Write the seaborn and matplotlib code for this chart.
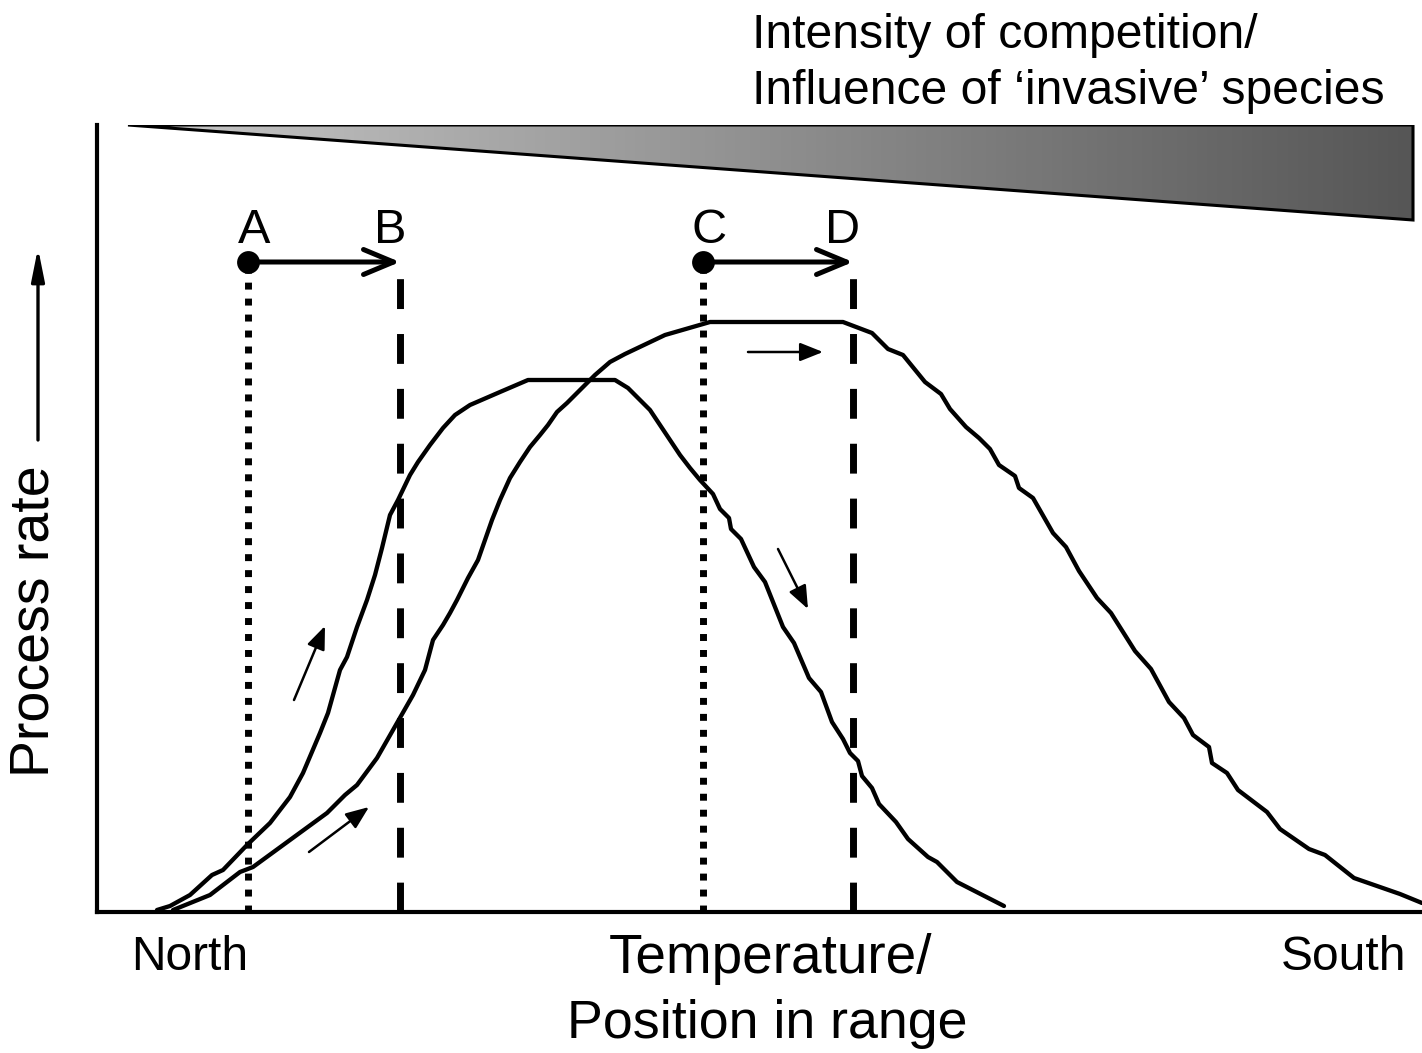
import numpy as np
import pandas as pd
import matplotlib.pyplot as plt
from matplotlib.patches import Polygon
import seaborn as sns

# Process-rate curves (position along range vs. rate)
north_x = [60, 73, 93, 115, 126, 150, 173, 193, 206, 223, 231, 243, 250, 260, 270, 278, 285, 293, 301, 313,
           321, 333, 346, 358, 373, 403, 431, 518, 531, 543, 553, 563, 573, 583, 593, 603, 616, 623, 632, 634,
           644, 657, 668, 686, 697, 712, 724, 735, 746, 753, 761, 765, 775, 782, 799, 811, 831, 840, 860, 907]
north_y = [2, 6, 17, 37, 42, 67, 89, 115, 139, 179, 199, 242, 255, 285, 312, 337, 364, 397, 412, 437,
           450, 467, 484, 497, 507, 520, 532, 532, 524, 512, 502, 487, 472, 457, 444, 432, 418, 403, 394, 383,
           373, 345, 330, 285, 269, 234, 220, 190, 173, 159, 151, 136, 124, 108, 90, 73, 55, 50, 30, 6]

south_x = [76, 113, 143, 156, 193, 230, 248, 260, 280, 300, 316, 328, 336, 346, 353, 360, 371, 381, 388, 395,
           403, 413, 423, 433, 443, 451, 460, 470, 483, 498, 513, 528, 568, 613, 746, 775, 791, 806, 828, 844,
           853, 869, 882, 893, 902, 918, 922, 936, 956, 969, 982, 1000, 1014, 1038, 1054, 1072, 1087, 1096, 1112, 1115,
           1130, 1141, 1170, 1183, 1212, 1228, 1257, 1303, 1325]
south_y = [2, 17, 40, 45, 72, 99, 117, 127, 154, 189, 217, 242, 272, 287, 299, 312, 334, 352, 372, 392,
           412, 434, 450, 465, 477, 487, 500, 509, 522, 537, 550, 558, 577, 590, 590, 579, 563, 557, 530, 518,
           503, 485, 474, 463, 447, 436, 424, 414, 379, 365, 341, 314, 299, 261, 243, 210, 194, 177, 165, 149,
           139, 122, 100, 83, 63, 57, 34, 18, 9]

# Range shifts A->B and C->D
shift_labels_start = ["A", "C"]
shift_labels_end = ["B", "D"]
shift_start = [151, 606]
shift_end = [303, 756]
shift_level = 650

# Small direction arrows (start x, start y, end x, end y)
dir_arrows = [(197, 212, 228, 286), (212, 60, 272, 105), (651, 560, 726, 560), (681, 363, 711, 303)]

# Competition wedge (x from, x to, height at right end)
wedge_x = [31, 1316]
wedge_top = 787
wedge_bottom = 692

W, H = 1422, 1053

sns.set_theme(style="white")
plt.rcParams["font.family"] = ["Liberation Sans", "DejaVu Sans"]
plt.rcParams["text.color"] = "black"

fig = plt.figure(figsize=(W / 100, H / 100), dpi=100)
ax = fig.add_axes([97 / W, (H - 912) / H, (W - 97) / W, 787 / H])

df = pd.concat([
    pd.DataFrame({"pos": north_x, "rate": north_y, "curve": "north"}),
    pd.DataFrame({"pos": south_x, "rate": south_y, "curve": "south"}),
])
sns.lineplot(data=df, x="pos", y="rate", units="curve", estimator=None, sort=False,
             color="black", lw=3.1, ax=ax, legend=False)

# vertical lines for range positions
for xs in shift_start:
    ax.plot([xs, xs], [0, shift_level], color="black", lw=5, linestyle=(0, (1, 1.3)))
for xe in shift_end:
    ax.plot([xe, xe], [0, shift_level], color="black", lw=5, linestyle=(0, (4.3, 3.6)))

# shift arrows
for xs, xe in zip(shift_start, shift_end):
    ax.annotate("", xy=(xe, shift_level), xytext=(xs, shift_level),
                arrowprops=dict(arrowstyle="->,head_length=0.72,head_width=0.3", lw=3.6,
                                color="black", mutation_scale=30, shrinkA=0, shrinkB=0))
sns.scatterplot(x=shift_start, y=[shift_level] * 2, s=270, color="black", ax=ax, zorder=5, linewidth=0)

for lab, xs in zip(shift_labels_start, shift_start):
    ax.text(xs + 6, shift_level + 19, lab, ha="center", va="baseline", fontsize=35, color="black")
for lab, xe in zip(shift_labels_end, shift_end):
    ax.text(xe - 10, shift_level + 19, lab, ha="center", va="baseline", fontsize=35, color="black")

# small direction arrows
for x0, y0, x1, y1 in dir_arrows:
    ax.annotate("", xy=(x1, y1), xytext=(x0, y0),
                arrowprops=dict(arrowstyle="-|>,head_length=0.5,head_width=0.2", lw=1.8,
                                color="black", mutation_scale=28, shrinkA=0, shrinkB=0))

# gradient wedge
verts = [(wedge_x[0], wedge_top), (wedge_x[1], wedge_top), (wedge_x[1], wedge_bottom)]
grad = np.linspace(0, 1, 256).reshape(1, -1)
cmap = plt.matplotlib.colors.LinearSegmentedColormap.from_list("wedge", ["#c8c8c8", "#565656"])
img = ax.imshow(grad, extent=[wedge_x[0], wedge_x[1], wedge_bottom, wedge_top], aspect="auto",
                cmap=cmap, origin="lower", zorder=1)
poly = Polygon(verts, closed=True, facecolor="none", edgecolor="black", lw=2.2, zorder=2,
               joinstyle="miter")
ax.add_patch(poly)
img.set_clip_path(poly)

ax.set_xlim(0, W - 97)
ax.set_ylim(0, 787)
ax.set_xticks([])
ax.set_yticks([])
ax.set_xlabel("")
ax.set_ylabel("")
for side in ["top", "right"]:
    ax.spines[side].set_visible(False)
for side in ["left", "bottom"]:
    ax.spines[side].set_linewidth(3)
    ax.spines[side].set_color("black")
ax.patch.set_alpha(0)


def fx(x):
    return x / W


def fy(y):
    return 1 - y / H


fig.text(fx(752), fy(48), "Intensity of competition/", fontsize=34.7, va="baseline", ha="left")
fig.text(fx(752), fy(104), "Influence of \u2018invasive\u2019 species", fontsize=34.7, va="baseline", ha="left")
fig.text(fx(190), fy(970), "North", fontsize=34.5, ha="center", va="baseline")
fig.text(fx(1344), fy(970), "South", fontsize=34.5, ha="center", va="baseline")
fig.text(fx(770), fy(973), "Temperature/", fontsize=39.5, ha="center", va="baseline")
fig.text(fx(767), fy(1038), "Position in range", fontsize=38.7, ha="center", va="baseline")
fig.text(fx(35), fy(621), "Process rate", fontsize=40, rotation=90, ha="center", va="center")
fig.add_artist(plt.matplotlib.patches.FancyArrowPatch(
    (fx(38), fy(440)), (fx(38), fy(248)), transform=fig.transFigure,
    arrowstyle="-|>,head_length=0.7,head_width=0.14", mutation_scale=28, lw=2.4, color="black",
    shrinkA=0, shrinkB=0))

fig.savefig("out.png", dpi=100)
